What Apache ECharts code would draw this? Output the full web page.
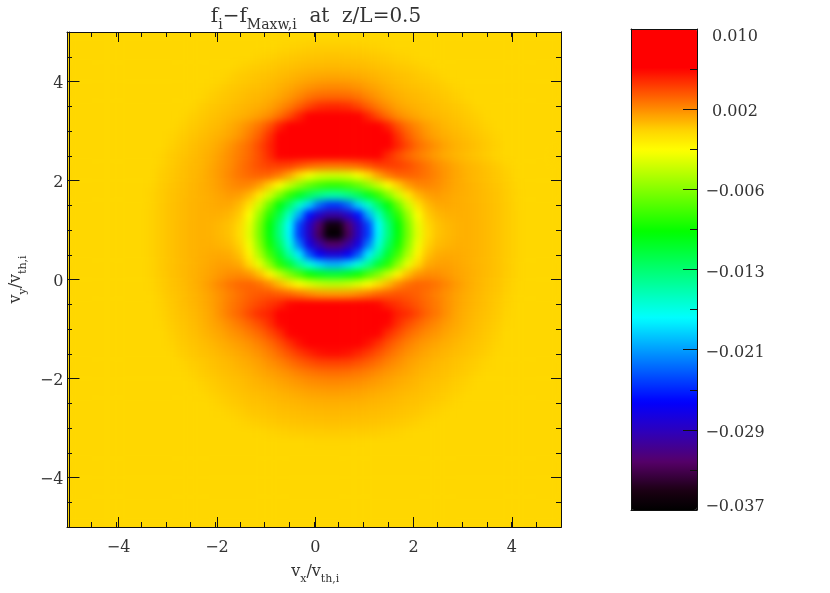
<!DOCTYPE html>
<html><head><meta charset="utf-8">
<style>html,body{margin:0;padding:0;background:#fff}#c{width:830px;height:593px}</style>
<script src="https://cdn.jsdelivr.net/npm/echarts@6/dist/echarts.min.js"></script>
</head><body><div id="c"></div>
<script>
// cell centres of the velocity grid
const xCells=[-4.9,-4.7,-4.5,-4.3,-4.1,-3.9,-3.7,-3.5,-3.3,-3.1,-2.9,-2.7,-2.5,-2.3,-2.1,-1.9,-1.7,-1.5,-1.3,-1.1,-0.9,-0.7,-0.5,-0.3,-0.1,0.1,0.3,0.5,0.7,0.9,1.1,1.3,1.5,1.7,1.9,2.1,2.3,2.5,2.7,2.9,3.1,3.3,3.5,3.7,3.9,4.1,4.3,4.5,4.7,4.9];
const yCells=[4.9,4.7,4.5,4.3,4.1,3.9,3.7,3.5,3.3,3.1,2.9,2.7,2.5,2.3,2.1,1.9,1.7,1.5,1.3,1.1,0.9,0.7,0.5,0.3,0.1,-0.1,-0.3,-0.5,-0.7,-0.9,-1.1,-1.3,-1.5,-1.7,-1.9,-2.1,-2.3,-2.5,-2.7,-2.9,-3.1,-3.3,-3.5,-3.7,-3.9,-4.1,-4.3,-4.5,-4.7,-4.9];
const O=n=>Array(n).fill(0);
// f_i - f_Maxw,i in units of 1e-3, one row per yCells entry
const fieldRows=[
[...O(50)],
[...O(21),.05,.12,.18,.22,.24,.25,.25,.24,.22,.18,.12,.05,...O(17)],
[...O(19),.1,.18,.27,.36,.44,.5,.53,.55,.55,.53,.5,.44,.36,.27,.18,.1,...O(15)],
[...O(17),.1,.22,.32,.42,.53,.64,.74,.82,.87,.9,.9,.87,.82,.74,.64,.53,.42,.32,.22,.1,...O(13)],
[...O(15),.04,.18,.32,.43,.55,.66,.8,.95,1.1,1.25,1.35,1.4,1.4,1.35,1.25,1.1,.95,.8,.66,.55,.43,.32,.18,.04,...O(11)],
[...O(14),.06,.2,.35,.47,.6,.72,.85,1.05,1.3,1.6,1.9,2.1,2.2,2.2,2.1,1.9,1.6,1.3,1.05,.85,.72,.6,.47,.35,.2,.06,...O(10)],
[...O(13),.06,.23,.38,.52,.68,.82,.95,1.15,1.4,1.8,2.3,2.8,3.1,3.2,3.2,3.1,2.8,2.3,1.8,1.4,1.15,.95,.82,.68,.52,.38,.23,.06,...O(9)],
[...O(12),.04,.23,.38,.54,.7,.85,1,1.2,1.5,2,2.6,3.4,4.2,4.8,5,5,4.8,4.2,3.4,2.6,2,1.5,1.2,1,.85,.7,.54,.38,.23,.04,...O(8)],
[...O(11),.02,.2,.37,.54,.72,.88,1.05,1.3,1.7,2.2,3,4,5.2,6.2,6.6,6.8,6.8,6.6,6.2,5.2,4,3,2.2,1.7,1.3,1.05,.88,.72,.54,.37,.2,.02,...O(7)],
[...O(11),.15,.34,.5,.72,.9,1.2,1.6,2.2,2.9,3.9,5.3,6.5,7,7.5,7.8,8,8,7.8,7.5,7,6.5,5.3,3.9,2.9,2.2,1.6,1.2,.9,.72,.5,.34,.15,...O(7)],
[...O(10),.07,.28,.48,.68,.9,1.1,1.45,1.9,2.6,3.5,4.8,6.3,7,7.8,8.2,8.4,8.5,8.5,8.4,8.2,7.8,7,6.3,4.8,3.5,2.6,1.9,1.45,1.1,.9,.68,.48,.28,.07,...O(6)],
[...O(10),.18,.4,.62,.85,1.05,1.4,1.9,2.5,3.1,4.1,5.2,6.4,7.2,7.8,8.2,8.4,8.5,8.5,8.4,8.2,7.8,7.2,6.4,5.2,4.1,3.1,2.5,1.9,1.4,1.05,.85,.62,.4,.18,...O(6)],
[...O(9),.07,.3,.5,.72,.95,1.2,1.6,2.1,2.6,3.2,4,5,6.2,6.6,6.8,6.9,7,7,7,6.9,6.8,6.6,6.2,5,4,3.2,2.6,2.1,1.6,1.2,.95,.72,.5,.3,.07,...O(5)],
[...O(9),.14,.37,.6,.82,1,1.3,1.75,2.2,2.8,3.4,4,4.4,4.5,4.4,3.9,3.4,3.1,3,3,3.1,3.4,3.9,4.4,4.5,4.4,4,3.4,2.8,2.2,1.75,1.3,1,.82,.6,.37,.14,...O(5)],
[...O(9),.24,.43,.66,.87,1.05,1.4,1.8,2.3,2.8,3.2,3.4,3.3,2.6,1.4,-.3,-2.1,-3,-3.3,-3.3,-3,-2.1,-.3,1.4,2.6,3.3,3.4,3.2,2.8,2.3,1.8,1.4,1.05,.87,.66,.43,.24,...O(5)],
[...O(8),.05,.3,.5,.72,.92,1.1,1.35,1.7,2.1,2.4,2.3,1.6,.2,-1.9,-3.6,-5.3,-6.8,-7.8,-8.4,-8.4,-7.8,-6.8,-5.3,-3.6,-1.9,.2,1.6,2.3,2.4,2.1,1.7,1.35,1.1,.92,.72,.5,.3,.05,...O(4)],
[...O(8),.1,.33,.55,.78,.95,1.1,1.25,1.5,1.75,1.6,.9,-.8,-3.3,-5.8,-8.4,-10.8,-12.7,-14.2,-15.2,-15.2,-14.2,-12.7,-10.8,-8.4,-5.8,-3.3,-.8,.9,1.6,1.75,1.5,1.25,1.1,.95,.78,.55,.33,.1,...O(4)],
[...O(8),.12,.35,.58,.8,.97,1.1,1.2,1.35,1.3,.8,-.6,-3.4,-6.6,-10.2,-13.1,-16.5,-19.7,-23,-24.7,-24.7,-23,-19.7,-16.5,-13.1,-10.2,-6.6,-3.4,-.6,.8,1.3,1.35,1.2,1.1,.97,.8,.58,.35,.12,...O(4)],
[...O(8),.13,.36,.6,.8,.97,1.1,1.15,1.1,.9,.3,-2,-5.1,-8.7,-12.2,-16.3,-20.9,-26,-28.7,-30.2,-30.2,-28.7,-26,-20.9,-16.3,-12.2,-8.7,-5.1,-2,.3,.9,1.1,1.15,1.1,.97,.8,.6,.36,.13,...O(4)],
[...O(8),.14,.36,.6,.82,1,1.1,1.05,.9,.6,-.1,-2.6,-6,-10,-13.8,-18.3,-24.3,-28.7,-32.2,-35.7,-35.7,-32.2,-28.7,-24.3,-18.3,-13.8,-10,-6,-2.6,-.1,.6,.9,1.05,1.1,1,.82,.6,.36,.14,...O(4)],
[...O(8),.14,.36,.6,.82,1,1.1,1.05,.85,.55,-.3,-2.8,-6.2,-10.2,-14,-18.5,-24.6,-28.9,-32.8,-36.9,-36.9,-32.8,-28.9,-24.6,-18.5,-14,-10.2,-6.2,-2.8,-.3,.55,.85,1.05,1.1,1,.82,.6,.36,.14,...O(4)],
[...O(8),.14,.37,.6,.82,1,1.1,1.15,1,.8,.1,-2.3,-5.6,-9.3,-12.9,-17.2,-22.5,-27.6,-30.2,-32.2,-32.2,-30.2,-27.6,-22.5,-17.2,-12.9,-9.3,-5.6,-2.3,.1,.8,1,1.15,1.1,1,.82,.6,.37,.14,...O(4)],
[...O(8),.14,.37,.6,.82,1,1.15,1.25,1.3,1.2,.6,-1.4,-4.4,-7.8,-11.3,-15.2,-18.8,-23.6,-26.7,-28,-28,-26.7,-23.6,-18.8,-15.2,-11.3,-7.8,-4.4,-1.4,.6,1.2,1.3,1.25,1.15,1,.82,.6,.37,.14,...O(4)],
[...O(8),.12,.36,.6,.82,1,1.2,1.4,1.6,1.6,1.3,-.1,-2.6,-5.4,-8.7,-11.5,-14.7,-17.2,-19.4,-20.6,-20.6,-19.4,-17.2,-14.7,-11.5,-8.7,-5.4,-2.6,-.1,1.3,1.6,1.6,1.4,1.2,1,.82,.6,.36,.12,...O(4)],
[...O(8),.1,.33,.58,.8,1.02,1.25,1.5,1.8,2.1,2.2,1.8,.7,-1.4,-3.6,-5.8,-7.6,-9.5,-10.7,-11.3,-11.3,-10.7,-9.5,-7.6,-5.8,-3.6,-1.4,.7,1.8,2.2,2.1,1.8,1.5,1.25,1.02,.8,.58,.33,.1,...O(4)],
[...O(8),.06,.28,.52,.75,1,1.3,1.75,2.3,2.8,3.2,3.3,3,2.2,.9,-.4,-1.9,-2.8,-3.6,-4,-4,-3.6,-2.8,-1.9,-.4,.9,2.2,3,3.3,3.2,2.8,2.3,1.75,1.3,1,.75,.52,.28,.06,...O(4)],
[...O(8),.02,.22,.47,.7,.95,1.2,1.55,2,2.5,3,3.4,3.7,3.8,3.6,3.3,2.8,2.3,1.9,1.8,1.8,1.9,2.3,2.8,3.3,3.6,3.8,3.7,3.4,3,2.5,2,1.55,1.2,.95,.7,.47,.22,.02,...O(4)],
[...O(9),.17,.4,.65,.88,1.15,1.5,2,2.6,3.1,3.7,4.2,4.7,5.2,6,6.3,6.3,6.3,6.3,6.3,6.3,6.3,6.3,6,5.2,4.7,4.2,3.7,3.1,2.6,2,1.5,1.15,.88,.65,.4,.17,...O(5)],
[...O(9),.12,.35,.58,.8,1.05,1.4,2,2.7,3.3,4.1,4.9,5.3,6.3,7,7.5,7.8,8,8,8,8,7.8,7.5,7,6.3,5.3,4.9,4.1,3.3,2.7,2,1.4,1.05,.8,.58,.35,.12,...O(5)],
[...O(9),.06,.28,.5,.72,.98,1.3,1.7,2.2,2.7,3.3,4,4.9,6,7,8,8.6,8.9,9,9,8.9,8.6,8,7,6,4.9,4,3.3,2.7,2.2,1.7,1.3,.98,.72,.5,.28,.06,...O(5)],
[...O(10),.2,.42,.62,.87,1.1,1.4,1.8,2.15,2.6,3.2,4,4.9,6.1,7.2,7.9,8.3,8.5,8.5,8.3,7.9,7.2,6.1,4.9,4,3.2,2.6,2.15,1.8,1.4,1.1,.87,.62,.42,.2,...O(6)],
[...O(10),.1,.33,.5,.7,.9,1.15,1.4,1.7,2,2.5,3.1,3.9,4.8,5.7,6.5,7,7.2,7.2,7,6.5,5.7,4.8,3.9,3.1,2.5,2,1.7,1.4,1.15,.9,.7,.5,.33,.1,...O(6)],
[...O(10),.02,.22,.38,.55,.72,.92,1.1,1.35,1.65,2,2.5,3.1,3.8,4.5,5.1,5.6,5.8,5.8,5.6,5.1,4.5,3.8,3.1,2.5,2,1.65,1.35,1.1,.92,.72,.55,.38,.22,.02,...O(6)],
[...O(11),.08,.25,.4,.57,.74,.9,1.1,1.3,1.6,2,2.4,2.9,3.4,3.8,4.1,4.2,4.2,4.1,3.8,3.4,2.9,2.4,2,1.6,1.3,1.1,.9,.74,.57,.4,.25,.08,...O(7)],
[...O(12),.12,.27,.42,.58,.74,.9,1.05,1.3,1.55,1.8,2.1,2.45,2.7,2.9,3,3,2.9,2.7,2.45,2.1,1.8,1.55,1.3,1.05,.9,.74,.58,.42,.27,.12,...O(8)],
[...O(13),.13,.29,.44,.58,.72,.88,1.05,1.2,1.4,1.6,1.8,2,2.1,2.2,2.2,2.1,2,1.8,1.6,1.4,1.2,1.05,.88,.72,.58,.44,.29,.13,...O(9)],
[...O(13),.02,.16,.3,.45,.58,.72,.84,.95,1.08,1.2,1.35,1.5,1.55,1.6,1.6,1.55,1.5,1.35,1.2,1.08,.95,.84,.72,.58,.45,.3,.16,.02,...O(9)],
[...O(14),.03,.17,.3,.43,.55,.64,.74,.84,.92,1,1.08,1.12,1.15,1.15,1.12,1.08,1,.92,.84,.74,.64,.55,.43,.3,.17,.03,...O(10)],
[...O(15),.03,.15,.26,.38,.47,.56,.65,.72,.78,.84,.86,.88,.88,.86,.84,.78,.72,.65,.56,.47,.38,.26,.15,.03,...O(11)],
[...O(17),.08,.18,.27,.36,.44,.5,.56,.6,.62,.65,.65,.62,.6,.56,.5,.44,.36,.27,.18,.08,...O(13)],
[...O(19),.02,.1,.17,.22,.27,.3,.31,.32,.32,.31,.3,.27,.22,.17,.1,.02,...O(15)],
[...O(24),.04,.05,.06,.06,.05,.04,...O(20)],
[...O(50)],[...O(50)],[...O(50)],[...O(50)],[...O(50)],[...O(50)],[...O(50)],[...O(50)]
];
const axisTicks=[-4,-2,0,2,4];
const barLabels=['\u22120.037','\u22120.029','\u22120.021','\u22120.013','\u22120.006','0.002','0.010'];
const fieldMin=-37, fieldMax=10;
const titleText='{m|f}{s|i}{m|\u2212f}{s|Maxw,i}{m|  at  z/L=0.5}';
const xName='{m|v}{s|x}{m|/v}{s|th,i}';
const yName='{m|v}{s|y}{m|/v}{s|th,i}';
// colour table: position along the bar, colour
const stops=[[0,'#000000'],[.04,'#1a0012'],[.10,'#560068'],[.16,'#3000b8'],[.225,'#0000ff'],[.40,'#00ffff'],[.578,'#00ff00'],[.748,'#ffff00'],[.787,'#ffd700'],[.919,'#ff0000'],[1,'#ff0000']];
function hex(c){return [1,3,5].map(i=>parseInt(c.substr(i,2),16));}
function colorAt(f){for(let i=1;i<stops.length;i++){if(f<=stops[i][0]){const a=stops[i-1],b=stops[i],t=(f-a[0])/(b[0]-a[0]),p=hex(a[1]),q=hex(b[1]);return 'rgb('+p.map((v,k)=>Math.round(v+(q[k]-v)*t)).join(',')+')';}}return stops[stops.length-1][1];}
const ramp=[];for(let i=0;i<=188;i++)ramp.push(colorAt(i/188));

const data=[];
fieldRows.forEach((r,j)=>r.forEach((v,i)=>data.push([i,j,v])));

const font='"DejaVu Serif"';
const ink='#333';
const rich={m:{fontFamily:font,fontSize:16,color:ink,padding:[0,0,5,0]},s:{fontFamily:font,fontSize:11,color:ink,verticalAlign:'bottom'}};
const richT={m:{fontFamily:font,fontSize:20,fontWeight:'normal',color:ink,padding:[0,0,5,0]},s:{fontFamily:font,fontSize:14,fontWeight:'normal',color:ink,verticalAlign:'bottom'}};
const plot={left:67,top:32,width:494,height:495};
const lineS={color:'#111',width:1};
function axisCommon(extra){return Object.assign({type:'value',min:-5,max:5,zlevel:2,splitLine:{show:false},axisLine:{show:true,onZero:false,lineStyle:lineS}},extra);}
const majT=p=>({show:true,inside:true,length:10,lineStyle:lineS,customValues:axisTicks});
const minT=()=>({show:true,inside:true,length:5,lineStyle:lineS});
const lab={show:true,customValues:axisTicks,fontFamily:font,fontSize:16,color:ink,formatter:v=>String(v).replace('-','\u2212')};
const frameLine={show:true,onZero:false,lineStyle:lineS};
const tickRich={n:{fontFamily:font,fontSize:16,color:ink,padding:[5,0,0,0]}};
const barRich={t:{fontFamily:font,fontSize:16,color:ink,padding:[16,0,0,0]},n:{fontFamily:font,fontSize:16,color:ink,padding:[6,0,0,0]},b:{fontFamily:font,fontSize:16,color:ink,padding:[0,0,6,0]}};
const hiddenAxis={show:false,axisLine:{show:false,onZero:false},axisTick:{show:false},axisLabel:{show:false},splitLine:{show:false}};

const option={
 animation:false,
 backgroundColor:'#fff',
 title:{text:titleText,left:311,top:2,textAlign:'center',textStyle:{rich:richT},zlevel:2},
 grid:[
  Object.assign({show:true,backgroundColor:'#ffd700',borderWidth:0,zlevel:0},plot),
  Object.assign({zlevel:2},plot),
  Object.assign({zlevel:2},plot),
  {left:631,top:29,width:66,height:481,zlevel:0,show:true,borderWidth:0,backgroundColor:{type:'linear',x:0,y:0,x2:0,y2:1,colorStops:[{offset:0,color:'#ff0000'},{offset:.5,color:'#ff0000'},{offset:.5,color:'#000000'},{offset:1,color:'#000000'}]}}
 ],
 xAxis:[
  Object.assign({type:'category',data:xCells,gridIndex:0,zlevel:1},hiddenAxis),
  axisCommon({gridIndex:1,position:'bottom',axisTick:majT(),axisLabel:Object.assign({},lab,{margin:13}),name:xName,nameLocation:'middle',nameGap:37,nameTextStyle:{rich}}),
  axisCommon({gridIndex:1,position:'top',axisTick:majT(),axisLabel:{show:false}}),
  axisCommon({gridIndex:2,position:'bottom',interval:.5,axisTick:minT(),axisLabel:{show:false}}),
  axisCommon({gridIndex:2,position:'top',interval:.5,axisTick:minT(),axisLabel:{show:false}}),
  {type:'value',gridIndex:3,position:'bottom',min:0,max:1,zlevel:2,splitLine:{show:false},axisTick:{show:false},axisLabel:{show:false},axisLine:frameLine},
  {type:'value',gridIndex:3,position:'top',min:0,max:1,zlevel:2,splitLine:{show:false},axisTick:{show:false},axisLabel:{show:false},axisLine:frameLine}
 ],
 yAxis:[
  Object.assign({type:'category',data:yCells,inverse:true,gridIndex:0,zlevel:1},hiddenAxis),
  axisCommon({gridIndex:1,position:'left',axisTick:majT(),axisLabel:{show:true,customValues:axisTicks,margin:6,rich:tickRich,formatter:v=>'{n|'+String(v).replace('-','\u2212')+'}'},name:yName,nameLocation:'middle',nameGap:38,nameTextStyle:{rich}}),
  axisCommon({gridIndex:1,position:'right',axisTick:majT(),axisLabel:{show:false}}),
  axisCommon({gridIndex:2,position:'left',interval:.5,axisTick:minT(),axisLabel:{show:false}}),
  axisCommon({gridIndex:2,position:'right',interval:.5,axisTick:minT(),axisLabel:{show:false}}),
  {type:'value',gridIndex:3,position:'right',min:0,max:6,interval:1,zlevel:2,splitLine:{show:false},
   axisLine:frameLine,axisTick:{show:true,inside:true,length:14,lineStyle:lineS},
   minorTick:{show:true,splitNumber:2,length:7,lineStyle:lineS},
   axisLabel:{show:true,align:'center',margin:38,rich:barRich,formatter:(v)=>{const i=Math.round(v);return '{'+(i===0?'b':i===6?'t':'n')+'|'+barLabels[i]+'}';}}},
  {type:'value',gridIndex:3,position:'left',min:0,max:6,zlevel:2,splitLine:{show:false},axisTick:{show:false},axisLabel:{show:false},axisLine:frameLine}
 ],
 visualMap:{type:'continuous',seriesIndex:0,min:fieldMin,max:fieldMax,calculable:false,hoverLink:false,realtime:false,left:631,top:29,padding:0,itemWidth:66,itemHeight:481,text:null,showLabel:false,inRange:{color:ramp},zlevel:0},
 series:[{type:'heatmap',xAxisIndex:0,yAxisIndex:0,data:data,zlevel:1,progressive:0,itemStyle:{borderWidth:0},emphasis:{disabled:true},silent:true}]
};
const el=document.getElementById('c');
const chart=echarts.init(el,null,{renderer:'canvas',width:830,height:593});
chart.setOption(option);
function soften(){
 const cv=el.querySelector('canvas[data-zr-dom-id="zr_1"]');
 if(cv){cv.style.filter='blur(3.5px)';cv.style.clipPath='inset(32px 269px 66px 67px)';}
}
soften();chart.on('finished',soften);
</script></body></html>
